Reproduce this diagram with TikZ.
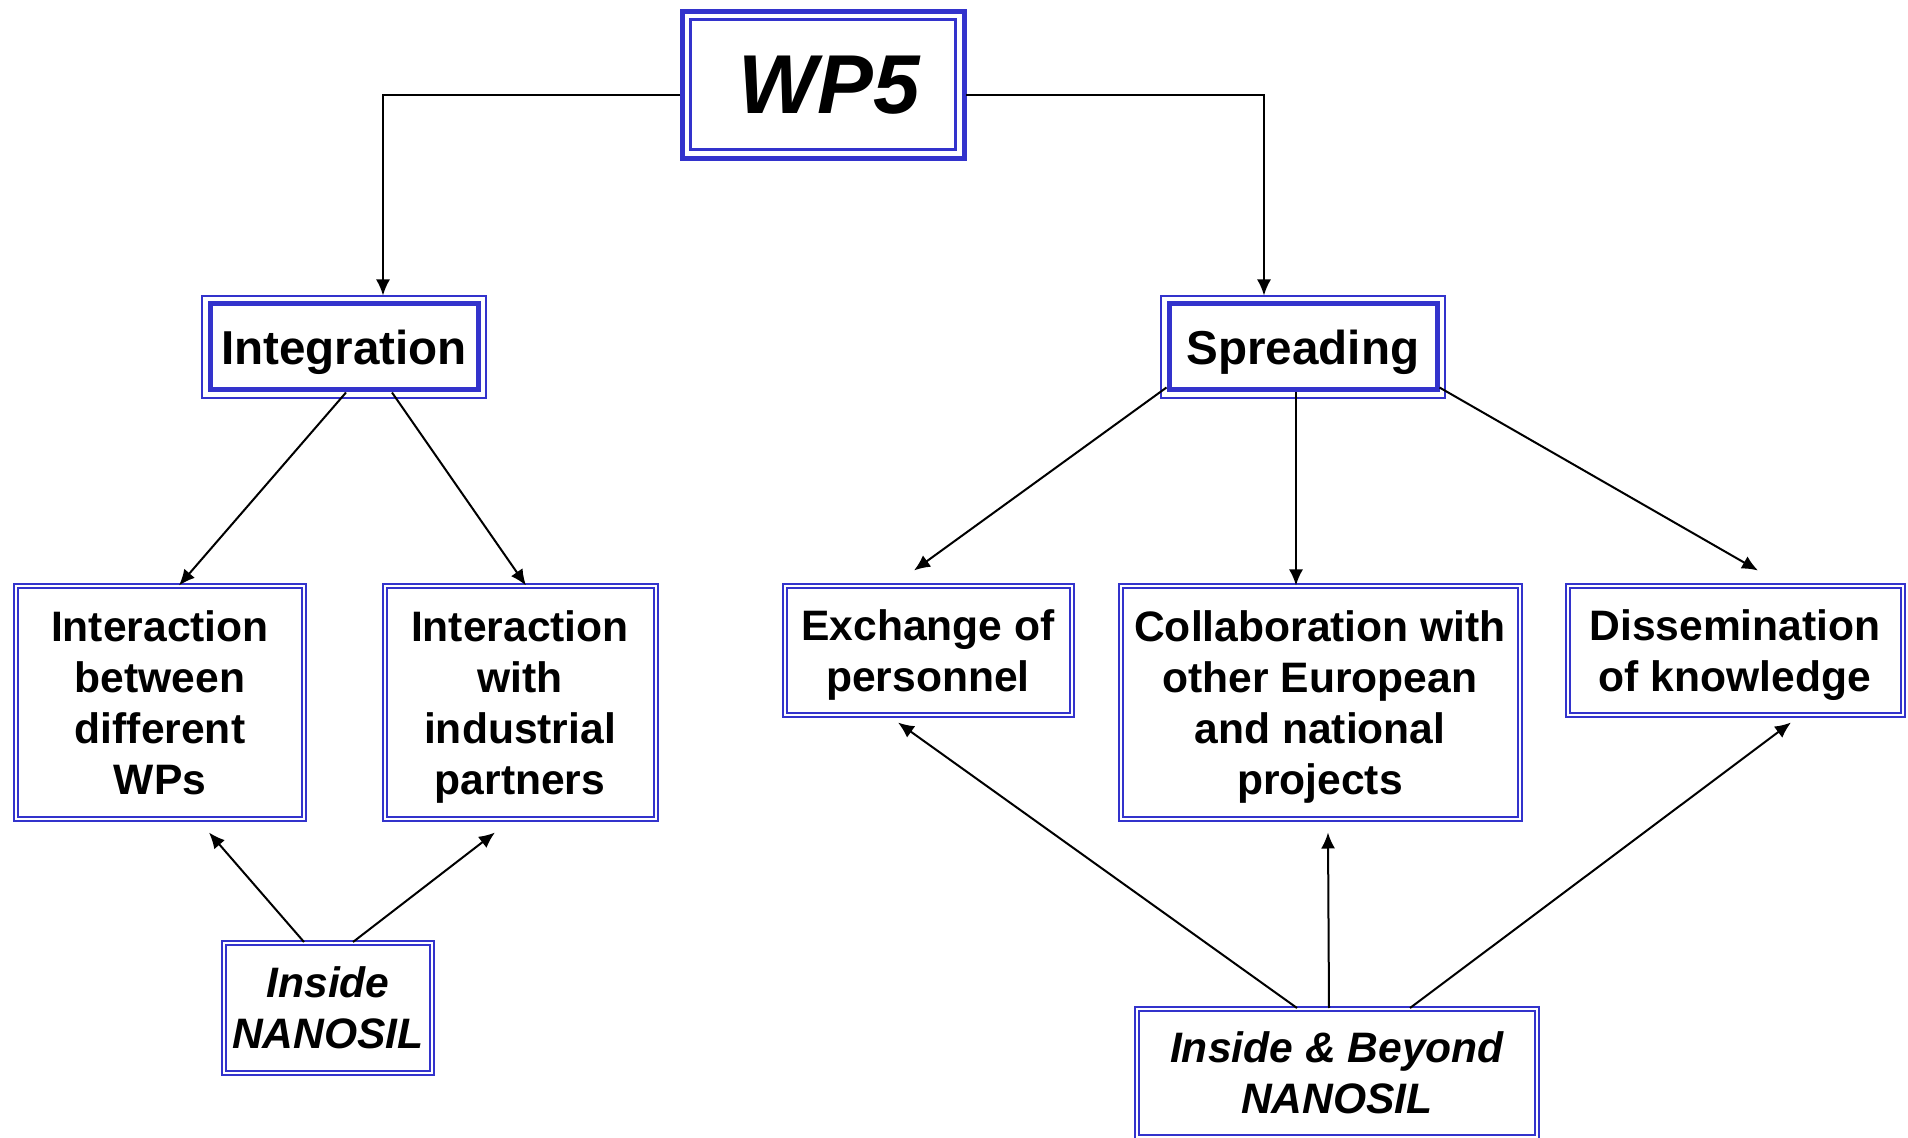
\documentclass[tikz,border=0pt]{standalone}
\usepackage{fontspec}
\setmainfont{Liberation Sans}
\usetikzlibrary{arrows.meta}
\definecolor{wpblue}{RGB}{51,51,204}

\begin{document}
\begin{tikzpicture}[x=0.5pt,y=-0.5pt,
	box/.style={draw=wpblue,double,double distance=1pt,line width=1pt,align=center,inner sep=1pt,text depth=0pt,font=\fontsize{21.3}{25.5}\selectfont\bfseries},
	ibox/.style={box,font=\fontsize{21.3}{25.5}\selectfont\bfseries\itshape},
	head/.style={draw=wpblue,line width=2.5pt,inner sep=1pt,text depth=0pt,minimum width=134pt,minimum height=43pt,font=\fontsize{23.8}{28}\selectfont\bfseries},
	headframe/.style={draw=wpblue,line width=1pt},
	link/.style={-{Latex[length=8pt,width=7pt]},line width=1pt}]
	\useasboundingbox (0,0) rectangle (1908,1138);

	% top
	\node[draw=wpblue,line width=1.5pt,minimum width=132.5pt,minimum height=65pt,font=\fontsize{41.8}{48}\selectfont\bfseries\itshape] (wp5) at (823,85) {\hspace{6pt}WP5};
	\draw[wpblue,line width=2.5pt] ([shift={(-7,-7)}]wp5.north west) rectangle ([shift={(7,7)}]wp5.south east);

	\node[head] (integ) at (344,347) {Integration};
	\node[head] (spread) at (1303,347) {Spreading};
	\foreach \n in {integ,spread}
		\draw[headframe] ([shift={(-5.5,-5.5)}]\n.north west) rectangle ([shift={(5.5,5.5)}]\n.south east);

	% boxes
	\node[box,minimum width=144pt,minimum height=116.5pt] (between) at (160,703) {Interaction\\between\\different\\WPs};
	\node[box,minimum width=135.5pt,minimum height=116.5pt] (with) at (520,703) {Interaction\\with\\industrial\\partners};
	\node[box,minimum width=143.5pt,minimum height=64.5pt] (exch) at (928,651) {Exchange of\\personnel};
	\node[box,minimum width=199.5pt,minimum height=116.5pt] (collab) at (1320,703) {Collaboration with\\other European\\and national\\projects};
	\node[box,minimum width=167.5pt,minimum height=64.5pt] (dissem) at (1735,651) {Dissemination\\of knowledge};

	\node[ibox,minimum width=104pt,minimum height=65pt] (inside) at (328,1008) {Inside\\NANOSIL};
	\node[ibox,minimum width=200pt,minimum height=64pt] (beyond) at (1337,1073) {Inside \& Beyond\\NANOSIL};

	% links
	\draw[link] ([shift={(-9,10)}]wp5.west) -| ([shift={(39,-6)}]integ.north);
	\draw[link] ([shift={(9,10)}]wp5.east) -| ([shift={(-39,-6)}]spread.north);

	\draw[link] ([shift={(2,0)}]integ.south) -- ([shift={(19,0)}]between.north);
	\draw[link] ([shift={(48,0)}]integ.south) -- ([shift={(6,0)}]with.north);

	\draw[link] ([shift={(0,-5)}]spread.south west) -- ([shift={(-14,-15)}]exch.north);
	\draw[link] ([shift={(-7,0)}]spread.south) -- ([shift={(-24,0)}]collab.north);
	\draw[link] ([shift={(0,-5)}]spread.south east) -- ([shift={(23,-15)}]dissem.north);

	\draw[link] ([shift={(-24,0)}]inside.north) -- ([shift={(49,12)}]between.south);
	\draw[link] ([shift={(25,0)}]inside.north) -- ([shift={(-25,12)}]with.south);

	\draw[link] ([shift={(-40,0)}]beyond.north) -- ([shift={(-30,6)}]exch.south);
	\draw[link] ([shift={(-8,0)}]beyond.north) -- ([shift={(8,12)}]collab.south);
	\draw[link] ([shift={(73,0)}]beyond.north) -- ([shift={(56,6)}]dissem.south);
\end{tikzpicture}
\end{document}
